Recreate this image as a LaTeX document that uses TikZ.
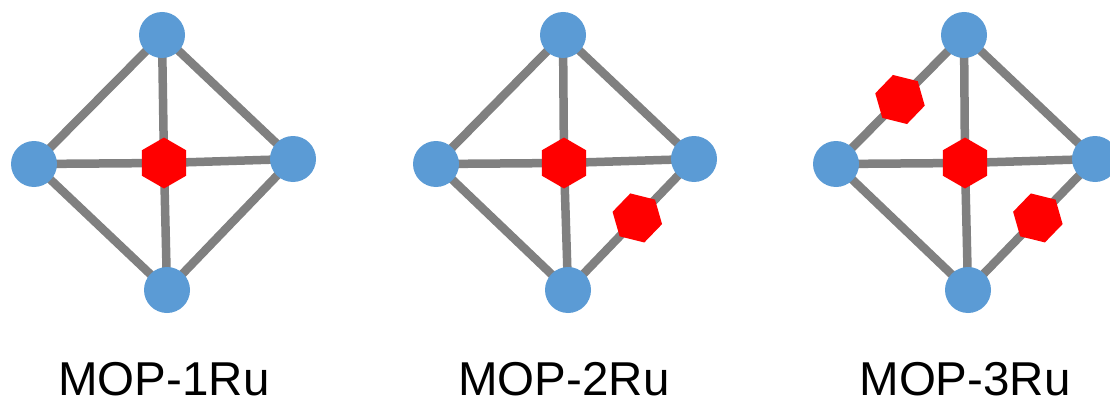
\documentclass[tikz,border=0pt]{standalone}
\usepackage{fontspec}
\setmainfont{Liberation Sans}
\usetikzlibrary{shapes.geometric,backgrounds,calc}
\definecolor{atomblue}{RGB}{91,155,213}
\definecolor{bondgray}{RGB}{128,128,128}
\definecolor{rured}{RGB}{255,0,0}
\tikzset{
  atom/.style={circle,fill=atomblue,inner sep=0pt,minimum size=46pt},
  ru/.style={regular polygon,regular polygon sides=6,fill=rured,inner sep=0pt,minimum size=51pt},
  rucore/.style={ru,rotate=30},
  ruedge/.style={ru,rotate=46},
  bond/.style={draw=bondgray,line width=8.5pt},
  caption/.style={anchor=base,inner sep=0pt,font=\fontsize{47.5}{57}\selectfont}
}
\begin{document}
\begin{tikzpicture}[x=1pt,y=-1pt]
\useasboundingbox (0,0) rectangle (1110,401);

% ---- MOP-1Ru ----
\node[atom] (t1) at (162,35) {};
\node[atom] (l1) at (34,164) {};
\node[atom] (r1) at (293,159) {};
\node[atom] (b1) at (167,290) {};
\node[rucore] (c1) at (164,163) {};
\node[caption] (n1) at (164,395) {MOP-1Ru};
\begin{pgfonlayer}{background}
  \draw[bond] (t1.center) -- (l1.center) -- (b1.center) -- (r1.center) -- cycle;
  \draw[bond] (t1.center) -- (c1.center) -- (b1.center);
  \draw[bond] (l1.center) -- (c1.center) -- (r1.center);
\end{pgfonlayer}

% ---- MOP-2Ru ----
\node[atom] (t2) at (563,35) {};
\node[atom] (l2) at (436,164) {};
\node[atom] (r2) at (694,159) {};
\node[atom] (b2) at (568,290) {};
\node[rucore] (c2) at (564,163) {};
\node[ruedge] (e2) at ($(r2)!0.45!(b2)$) {};
\node[caption] (n2) at (564,395) {MOP-2Ru};
\begin{pgfonlayer}{background}
  \draw[bond] (t2.center) -- (l2.center) -- (b2.center) -- (r2.center) -- cycle;
  \draw[bond] (t2.center) -- (c2.center) -- (b2.center);
  \draw[bond] (l2.center) -- (c2.center) -- (r2.center);
\end{pgfonlayer}

% ---- MOP-3Ru ----
\node[atom] (t3) at (964,35) {};
\node[atom] (l3) at (836,164) {};
\node[atom] (r3) at (1095,159) {};
\node[atom] (b3) at (968,290) {};
\node[rucore] (c3) at (965,163) {};
\node[ruedge] (e3a) at ($(t3)!0.5!(l3)$) {};
\node[ruedge] (e3b) at ($(r3)!0.45!(b3)$) {};
\node[caption] (n3) at (965,395) {MOP-3Ru};
\begin{pgfonlayer}{background}
  \draw[bond] (t3.center) -- (l3.center) -- (b3.center) -- (r3.center) -- cycle;
  \draw[bond] (t3.center) -- (c3.center) -- (b3.center);
  \draw[bond] (l3.center) -- (c3.center) -- (r3.center);
\end{pgfonlayer}
\end{tikzpicture}
\end{document}
